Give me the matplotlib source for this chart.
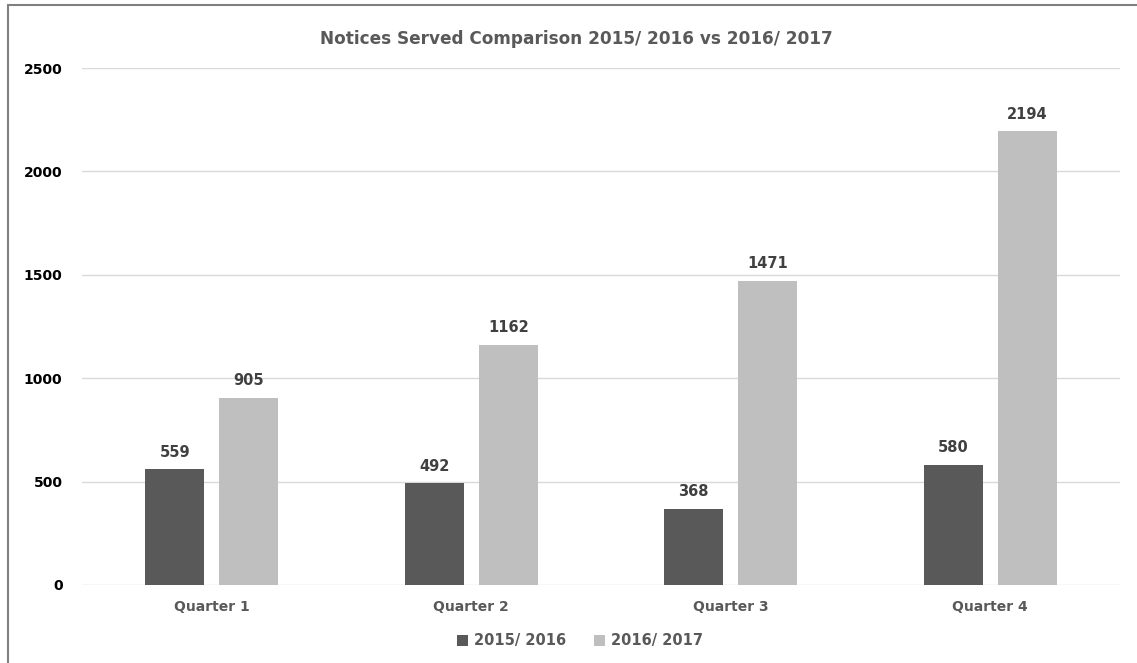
import matplotlib
matplotlib.use("Agg")
import matplotlib.pyplot as plt
import numpy as np
from matplotlib.patches import Rectangle

categories = ["Quarter 1", "Quarter 2", "Quarter 3", "Quarter 4"]
series_names = ["2015/ 2016", "2016/ 2017"]
values_1516 = [559, 492, 368, 580]
values_1617 = [905, 1162, 1471, 2194]
yticks = [0, 500, 1000, 1500, 2000, 2500]

colors = ["#595959", "#bfbfbf"]

fig = plt.figure(figsize=(11.37, 6.63), dpi=100)
fig.patch.set_facecolor("white")
# outer frame
fig.add_artist(Rectangle((8/1137, -0.1), 1.2, (663-5)/663 + 0.1, transform=fig.transFigure,
                         fill=False, edgecolor="#808080", linewidth=1.5))

ax = fig.add_axes([82/1137, 1-585/663, (1120-82)/1137, (585-68)/663])
x = np.arange(len(categories))
w = 0.227
off = 0.143
b1 = ax.bar(x - off, values_1516, w, color=colors[0], label=series_names[0], zorder=3)
b2 = ax.bar(x + off, values_1617, w, color=colors[1], label=series_names[1], zorder=3)

for bars in (b1, b2):
    for r in bars:
        ax.annotate(f"{int(r.get_height())}", (r.get_x() + r.get_width()/2, r.get_height()),
                    xytext=(0, 7), textcoords="offset points", ha="center", va="bottom",
                    fontsize=10.5, fontweight="bold", color="#404040")

ax.set_xlim(-0.5, len(categories) - 0.5)
ax.set_ylim(0, 2500)
ax.set_yticks(yticks)
ax.set_yticklabels([str(v) for v in yticks], fontsize=10, fontweight="bold", color="black")
ax.set_xticks(x)
ax.set_xticklabels(categories, fontsize=10, fontweight="bold", color="#595959")
ax.tick_params(axis="both", length=0)
ax.tick_params(axis="y", pad=14)
ax.tick_params(axis="x", pad=11)
ax.grid(axis="y", color="#d9d9d9", linewidth=1, zorder=0)
for s in ax.spines.values():
    s.set_visible(False)

fig.text(576/1137, 1-39/663, "Notices Served Comparison 2015/ 2016 vs 2016/ 2017", fontsize=12.2,
         fontweight="bold", color="#595959", ha="center", va="center")

leg = fig.legend(loc="center", bbox_to_anchor=(580/1137, 1-641/663), ncol=2, frameon=False,
                 fontsize=10.5, handlelength=0.75, handleheight=0.75, columnspacing=1.9, handletextpad=0.4)
for t in leg.get_texts():
    t.set_fontweight("bold")
    t.set_color("#595959")

fig.savefig("out.png", dpi=100)
